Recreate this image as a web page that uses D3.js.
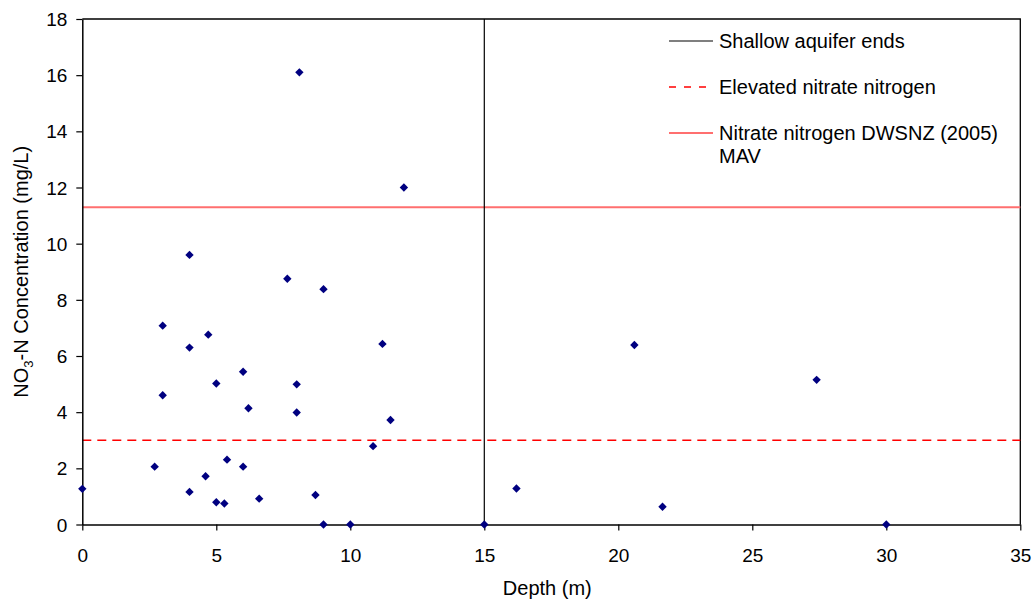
<!DOCTYPE html>
<html>
<head>
<meta charset="utf-8">
<script src="https://cdn.jsdelivr.net/npm/d3@7"></script>
<style>
  html, body { margin: 0; padding: 0; background: #fff; }
  svg { display: block; font-family: "Liberation Sans", Arial, sans-serif; }
</style>
</head>
<body>
<svg id="chart" width="1035" height="604"></svg>
<script>
// ---- data ----
const depth = [0, 2.7, 3, 3, 4, 4, 4, 4.6, 4.7, 5, 5, 5.3, 5.4, 6, 6, 6.2, 6.6, 7.65, 8, 8, 8.1, 8.7, 9, 9, 10, 10.85, 11.2, 11.5, 12, 15, 16.2, 20.6, 21.65, 27.4, 30];
const nitrate = [1.27, 2.06, 7.08, 4.6, 9.6, 6.3, 1.16, 1.72, 6.76, 5.02, 0.79, 0.75, 2.31, 5.44, 2.06, 4.14, 0.92, 8.75, 4.99, 3.99, 16.1, 1.05, 8.38, 0, 0, 2.79, 6.43, 3.72, 12.0, 0, 1.28, 6.39, 0.63, 5.15, 0];
const xTicks = [0, 5, 10, 15, 20, 25, 30, 35];
const yTicks = [0, 2, 4, 6, 8, 10, 12, 14, 16, 18];
const shallowEndDepth = 15;
const elevatedLevel = 3;
const mavLevel = 11.3;
const legendLabels = ["Shallow aquifer ends", "Elevated nitrate nitrogen", ["Nitrate nitrogen DWSNZ (2005)", "MAV"]];

// ---- layout ----
const svg = d3.select("#chart");
const mLeft = 82.3, mRight = 1020.3, mTop = 19, mBottom = 524.5;

const x = d3.scaleLinear().domain([0, 35]).range([mLeft, mRight]);
const y = d3.scaleLinear().domain([0, 18]).range([mBottom, mTop]);

// plot frame (top & right)
svg.append("path")
  .attr("d", `M${mLeft},${mTop}H${mRight}V${mBottom}`)
  .attr("fill", "none").attr("stroke", "#000").attr("stroke-width", 1.3);

// reference lines
svg.append("line")
  .attr("x1", x(0)).attr("x2", x(35))
  .attr("y1", y(mavLevel)).attr("y2", y(mavLevel))
  .attr("stroke", "#FF6F6F").attr("stroke-width", 2);
svg.append("line")
  .attr("x1", x(0)).attr("x2", x(35))
  .attr("y1", y(elevatedLevel)).attr("y2", y(elevatedLevel))
  .attr("stroke", "#FF0000").attr("stroke-width", 1.5)
  .attr("stroke-dasharray", "9,6");
svg.append("line")
  .attr("x1", x(shallowEndDepth)).attr("x2", x(shallowEndDepth))
  .attr("y1", y(0)).attr("y2", y(18))
  .attr("stroke", "#000").attr("stroke-width", 1.2);

// axes
const xAxis = svg.append("g")
  .attr("transform", `translate(0,${mBottom})`)
  .call(d3.axisBottom(x).tickValues(xTicks).tickSize(6).tickSizeOuter(0));
const yAxis = svg.append("g")
  .attr("transform", `translate(${mLeft},0)`)
  .call(d3.axisLeft(y).tickValues(yTicks).tickSize(6).tickSizeOuter(0));

[xAxis, yAxis].forEach(g => {
  g.select(".domain").attr("stroke", "#000").attr("stroke-width", 1.5);
  g.selectAll(".tick line").attr("stroke", "#000").attr("stroke-width", 1.2);
  g.selectAll(".tick text")
    .attr("fill", "#000")
    .style("font-size", "19px")
    .style("font-family", "'Liberation Sans', Arial, sans-serif");
});
xAxis.selectAll(".tick text").attr("y", 24);
yAxis.selectAll(".tick text").attr("x", -15).attr("dy", "0.35em");

// axis titles
svg.append("text")
  .attr("x", (mLeft + mRight) / 2 - 4).attr("y", 595)
  .attr("text-anchor", "middle")
  .style("font-size", "20px")
  .text("Depth (m)");

const yt = svg.append("text")
  .attr("transform", `translate(28,${(mTop + mBottom) / 2}) rotate(-90)`)
  .attr("text-anchor", "middle")
  .style("font-size", "20px");
yt.append("tspan").text("NO");
yt.append("tspan").attr("dy", 5).style("font-size", "13px").text("3");
yt.append("tspan").attr("dy", -5).text("-N Concentration (mg/L)");

// points
const diamond = "M0,-4.2L4.2,0L0,4.2L-4.2,0Z";
svg.append("g").selectAll("path")
  .data(depth.map((d, i) => [d, nitrate[i]]))
  .join("path")
  .attr("d", diamond)
  .attr("transform", d => `translate(${x(d[0])},${y(d[1])})`)
  .attr("fill", "#000080");

// legend
const lg = svg.append("g");
const lx1 = 669, lx2 = 713, tx = 719;
const rows = [
  { y: 41, stroke: "#000", width: 1.2, dash: null },
  { y: 87, stroke: "#FF0000", width: 1.5, dash: "7,8" },
  { y: 133, stroke: "#FF6F6F", width: 2, dash: null }
];
rows.forEach((r, i) => {
  lg.append("line")
    .attr("x1", lx1).attr("x2", lx2).attr("y1", r.y).attr("y2", r.y)
    .attr("stroke", r.stroke).attr("stroke-width", r.width)
    .attr("stroke-dasharray", r.dash);
  const lab = legendLabels[i];
  const t = lg.append("text").attr("x", tx).attr("y", r.y + 7).style("font-size", "20px");
  if (Array.isArray(lab)) {
    t.append("tspan").attr("x", tx).text(lab[0]);
    t.append("tspan").attr("x", tx).attr("dy", 23).text(lab[1]);
  } else {
    t.text(lab);
  }
});
</script>
</body>
</html>
